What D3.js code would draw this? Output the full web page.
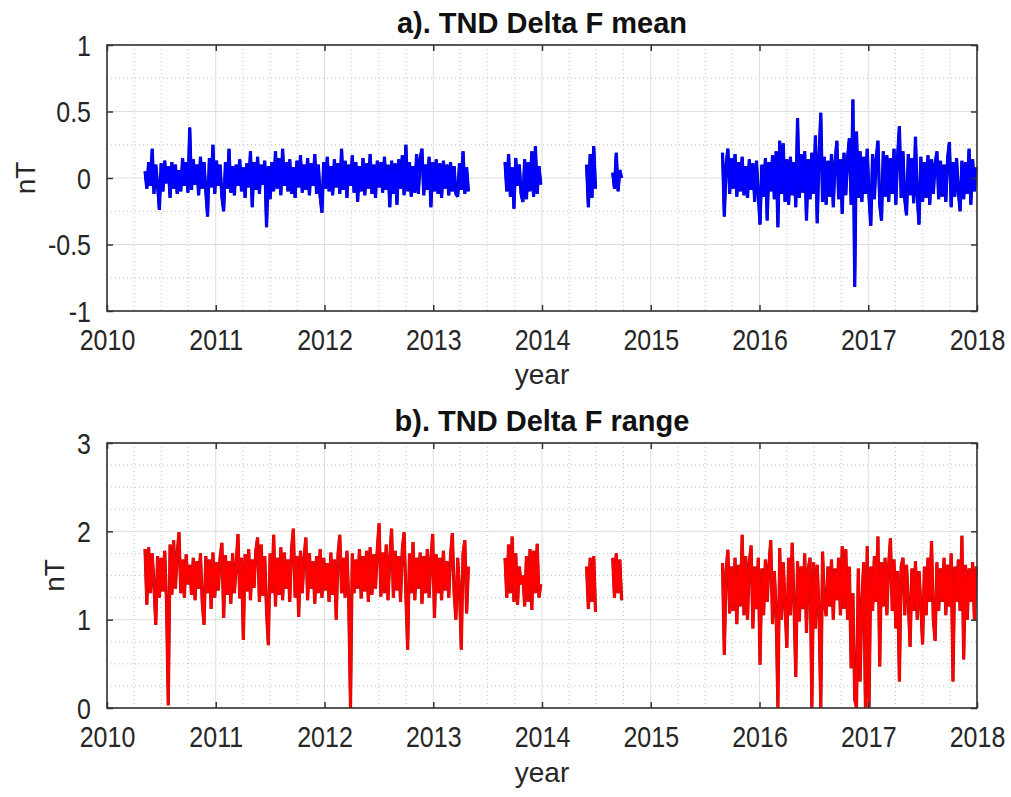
<!DOCTYPE html>
<html>
<head>
<meta charset="utf-8">
<script src="https://cdn.jsdelivr.net/npm/d3@7"></script>
<style>
  body { margin: 0; background: #fff; }
  text { font-family: "Liberation Sans", Arial, sans-serif; fill: #262626; }
</style>
</head>
<body>
<svg id="chart" width="1011" height="797"></svg>
<script>
// tick labels
const xYears = [2010, 2011, 2012, 2013, 2014, 2015, 2016, 2017, 2018];
const yTicksMean = [-1, -0.5, 0, 0.5, 1];
const yTicksRange = [0, 1, 2, 3];

// each data segment starts at this decimal year, samples every 6 days
const segStarts = [2010.35, 2013.66, 2014.41, 2014.65, 2015.66];
const sampleDays = 6;

// a). Delta F mean, nT
const mean1 = [
  0.05,-0.08,0.12,-0.06,0.22,-0.12,0.1,-0.05,-0.24,0.11,
  -0.1,0.13,-0.04,0.09,-0.15,0.12,-0.08,0.1,-0.12,0.06,
  -0.1,0.15,-0.06,0.12,-0.11,0.38,-0.09,0.14,-0.05,0.1,
  -0.13,0.16,-0.08,0.12,-0.1,-0.29,0.15,-0.07,0.25,-0.12,
  0.13,-0.06,0.1,-0.14,-0.25,0.12,-0.08,0.22,-0.11,0.09,
  -0.13,0.1,-0.06,0.14,-0.1,0.08,-0.15,0.11,-0.07,0.2,
  -0.22,0.12,-0.09,0.16,-0.12,0.1,-0.05,0.13,-0.37,0.09,
  -0.16,0.12,-0.1,0.2,-0.08,0.15,-0.13,0.22,-0.06,0.12,
  -0.1,0.14,-0.12,0.08,-0.15,0.13,-0.07,0.17,-0.11,0.1,
  -0.09,0.15,-0.13,0.11,-0.06,0.18,-0.12,0.1,-0.14,-0.26,
  0.12,-0.08,0.16,-0.1,0.09,-0.13,0.14,-0.07,0.11,-0.12,
  0.22,-0.09,0.13,-0.15,0.1,-0.06,0.17,-0.11,0.12,-0.18,
  0.09,-0.1,0.15,-0.13,0.11,-0.08,0.18,-0.12,0.1,-0.15,
  0.13,-0.07,0.12,-0.11,0.16,-0.09,0.1,-0.22,0.13,-0.12,
  0.11,-0.2,0.14,-0.08,0.17,-0.13,0.25,-0.1,0.12,-0.14,
  0.09,-0.11,0.18,-0.12,0.15,0.22,-0.13,0.1,-0.09,0.16,
  -0.22,0.12,-0.1,0.14,-0.12,0.11,-0.15,0.13,-0.08,0.1,
  -0.13,0.12,-0.1,0.09,-0.12,-0.14,0.11,-0.09,0.2,-0.12,
  0.08,-0.1
];
const mean2 = [0.12,-0.1,0.18,-0.14,0.08,-0.23,0.15,-0.06,0.1,-0.12,-0.18,0.14,-0.16,0.12,-0.1,0.2,-0.14,0.24,-0.12,0.09,-0.05];
const mean3 = [0.1,-0.22,0.18,-0.15,0.24,-0.08];
const mean4 = [0.04,-0.08,0.19,-0.1,0.06,0.0];
const mean5 = [
  0.19,-0.29,0.1,0.22,-0.12,0.15,-0.08,0.18,-0.14,0.12,
  -0.1,0.16,-0.13,0.09,-0.15,0.14,-0.09,0.11,-0.18,0.13,
  -0.12,-0.35,0.1,-0.14,0.15,-0.32,0.12,-0.1,0.17,-0.16,
  0.2,-0.37,0.28,-0.12,0.26,-0.18,0.14,-0.2,0.16,-0.13,
  0.12,-0.22,0.45,-0.15,0.18,-0.11,0.2,-0.32,0.14,-0.16,
  0.19,-0.12,0.32,-0.34,0.15,0.49,-0.18,0.16,-0.2,0.13,
  -0.14,0.18,-0.22,0.12,0.28,-0.16,0.14,-0.27,0.19,-0.13,
  0.15,0.3,-0.2,0.59,-0.82,0.35,-0.15,0.2,-0.18,0.16,
  -0.12,0.22,-0.14,-0.36,0.18,-0.16,0.14,0.28,-0.2,-0.32,
  0.2,-0.14,0.17,-0.18,0.15,-0.12,0.22,-0.2,0.16,0.39,
  -0.15,0.2,-0.16,-0.28,0.18,-0.13,0.15,-0.19,0.31,-0.14,
  -0.35,0.16,-0.18,0.12,-0.15,0.17,-0.2,0.14,-0.12,0.11,
  0.2,-0.16,0.13,-0.14,0.1,-0.18,0.15,0.27,-0.22,0.12,
  -0.14,0.15,-0.1,-0.25,0.13,-0.16,0.12,-0.12,0.22,-0.2,
  0.14,-0.1,0.08
];

// b). Delta F range, nT
const range1 = [
  1.8,1.17,1.82,1.3,1.75,1.38,0.94,1.72,1.25,1.7,
  1.32,1.78,1.2,0.03,1.85,1.28,1.9,1.35,1.75,1.99,
  1.3,1.68,1.25,1.74,1.4,1.62,1.28,1.7,1.22,1.66,
  1.35,1.75,1.2,0.94,1.72,1.3,1.68,1.12,1.76,1.25,
  1.65,1.33,1.7,1.87,1.02,1.73,1.28,1.66,1.18,1.75,
  1.3,1.62,1.97,1.24,1.7,0.77,1.74,1.32,1.8,1.22,
  1.68,1.36,1.78,1.93,1.2,1.85,1.27,1.72,1.1,0.71,
  1.75,1.3,1.96,1.15,1.7,1.28,1.82,1.22,1.76,1.35,
  1.68,1.2,1.8,2.03,1.25,1.72,1.03,1.78,1.3,1.7,
  1.93,1.22,1.75,1.35,1.66,1.18,1.72,1.3,1.8,1.25,
  1.7,1.33,1.64,1.2,1.76,1.28,1.68,1.0,1.74,1.96,
  1.3,1.7,1.25,1.78,1.22,0.0,1.75,1.3,1.68,1.35,
  1.8,1.24,1.72,1.32,1.78,1.2,1.82,1.28,1.74,1.35,
  1.8,2.09,1.26,1.76,1.3,1.85,1.22,1.7,2.03,1.25,
  1.78,1.33,1.72,1.2,1.8,1.99,1.28,0.66,1.75,1.3,
  1.88,1.22,1.7,1.35,1.76,1.18,1.72,1.3,1.8,1.25,
  1.68,1.97,1.02,1.74,1.3,1.7,1.22,1.78,1.33,1.66,
  1.25,1.72,1.98,1.3,1.0,1.7,1.35,0.66,1.75,1.9,
  1.07,1.6
];
const range2 = [1.7,1.25,1.85,1.3,1.94,1.2,1.75,1.17,1.6,1.4,1.5,1.15,1.72,1.2,1.8,1.11,1.78,1.3,1.86,1.25,1.4];
const range3 = [1.6,1.12,1.7,1.2,1.72,1.09];
const range4 = [1.7,1.25,1.75,1.3,1.68,1.22];
const range5 = [
  1.64,0.6,1.55,1.79,1.07,1.6,1.1,1.7,0.95,1.62,
  1.15,1.96,1.05,1.72,1.0,1.65,1.84,0.9,1.6,1.12,
  1.7,0.49,1.58,1.05,1.68,1.2,1.62,1.9,0.95,1.55,
  1.1,0.0,1.81,1.0,1.65,1.15,0.68,1.7,1.05,1.87,
  1.2,0.35,1.66,0.98,1.6,1.12,1.75,0.85,1.58,1.7,
  0.0,1.65,0.9,1.62,1.1,0.0,1.77,1.2,1.04,1.6,
  1.15,1.68,1.0,1.58,1.22,1.7,1.05,1.83,1.12,1.8,
  1.0,1.6,0.45,1.3,0.1,0.0,1.58,0.3,1.2,1.65,
  0.0,1.83,0.0,1.6,1.1,1.72,1.2,1.94,0.47,1.65,
  1.15,1.7,1.05,1.62,1.92,1.1,1.68,0.9,1.55,0.3,
  1.6,1.7,1.05,1.62,1.2,0.69,1.58,1.1,1.66,1.0,
  1.55,1.15,0.72,1.6,1.05,1.7,1.2,1.89,1.0,0.76,
  1.65,1.1,1.58,1.2,1.7,1.05,1.62,1.15,1.75,0.3,
  1.6,1.2,1.68,1.1,1.95,0.55,1.62,1.0,1.58,1.2,
  1.65,1.0,1.6
];

const svg = d3.select("#chart");
const left = 107, right = 977;

const panels = [
  { title: "a). TND Delta F mean", top: 45, bottom: 311, domain: [-1, 1], ticks: yTicksMean, minorStep: 0.25,
    segs: [mean1, mean2, mean3, mean4, mean5], color: "#0000ff", edge: "#000090", titleY: 33, tickY: 350, labelY: 384, nTx: 35 },
  { title: "b). TND Delta F range", top: 443, bottom: 708, domain: [0, 3], ticks: yTicksRange, minorStep: 0.25,
    segs: [range1, range2, range3, range4, range5], color: "#ff0000", edge: "#901818", titleY: 431, tickY: 747, labelY: 782, nTx: 64 }
];

const x = d3.scaleLinear().domain([2010, 2018]).range([left, right]);
const step = sampleDays / 365.25;

panels.forEach(p => {
  const y = d3.scaleLinear().domain(p.domain).range([p.bottom, p.top]);
  const g = svg.append("g");

  // minor grid (dotted)
  const xMinor = d3.range(2010, 2018.001, 0.25).filter(v => v % 1 !== 0);
  const yMinor = d3.range(p.domain[0], p.domain[1] + 0.001, p.minorStep).filter(v => !p.ticks.includes(v));
  g.selectAll(".xminor").data(xMinor).enter().append("line")
    .attr("x1", d => x(d)).attr("x2", d => x(d)).attr("y1", p.top).attr("y2", p.bottom)
    .attr("stroke", "#c4c4c4").attr("stroke-dasharray", "1,3");
  g.selectAll(".yminor").data(yMinor).enter().append("line")
    .attr("x1", left).attr("x2", right).attr("y1", d => y(d)).attr("y2", d => y(d))
    .attr("stroke", "#c4c4c4").attr("stroke-dasharray", "1,3");

  // major grid
  g.selectAll(".xgrid").data(xYears).enter().append("line")
    .attr("x1", d => x(d)).attr("x2", d => x(d)).attr("y1", p.top).attr("y2", p.bottom)
    .attr("stroke", "#dedede");
  g.selectAll(".ygrid").data(p.ticks).enter().append("line")
    .attr("x1", left).attr("x2", right).attr("y1", d => y(d)).attr("y2", d => y(d))
    .attr("stroke", "#dedede");

  // data lines: a darker under-stroke gives the dense band its edge, colour on top
  const line = d3.line().x(d => x(d[0])).y(d => y(d[1]));
  p.segs.forEach((vals, k) => {
    const pts = vals.map((v, i) => [segStarts[k] + i * step, v]);
    g.append("path").datum(pts)
      .attr("d", line)
      .attr("fill", "none")
      .attr("stroke", p.edge)
      .attr("stroke-width", 3.2)
      .attr("stroke-linejoin", "bevel");
    g.append("path").datum(pts)
      .attr("d", line)
      .attr("fill", "none")
      .attr("stroke", p.color)
      .attr("stroke-width", 2.6)
      .attr("stroke-linejoin", "bevel");
  });

  // axes: inward ticks, labels below / left
  const axB = g.append("g").attr("transform", "translate(0," + p.bottom + ")")
    .call(d3.axisBottom(x).tickValues(xYears).tickSize(-6).tickSizeOuter(0).tickFormat(d3.format("d")));
  axB.selectAll("text").attr("y", 0).attr("dy", 0).style("font-size", "25px")
    .attr("transform", "translate(0," + (p.tickY - p.bottom) + ") scale(1,1.15)");
  const axT = g.append("g").attr("transform", "translate(0," + p.top + ")")
    .call(d3.axisTop(x).tickValues(xYears).tickSize(-6).tickSizeOuter(0).tickFormat(""));
  const axL = g.append("g").attr("transform", "translate(" + left + ",0)")
    .call(d3.axisLeft(y).tickValues(p.ticks).tickSize(-6).tickSizeOuter(0).tickFormat(d => String(d)));
  axL.selectAll("text").attr("x", 0).attr("dy", "0.35em").style("font-size", "25px")
    .attr("transform", "translate(-16,0) scale(1,1.15)");
  const axR = g.append("g").attr("transform", "translate(" + right + ",0)")
    .call(d3.axisRight(y).tickValues(p.ticks).tickSize(-6).tickSizeOuter(0).tickFormat(""));
  [axB, axT, axL, axR].forEach(a => {
    a.select(".domain").remove();
    a.selectAll("line").attr("stroke", "#333").attr("stroke-width", 1.5);
    a.selectAll("text").attr("fill", "#262626").style("font-family", "'Liberation Sans', Arial, sans-serif");
  });

  // box
  g.append("rect")
    .attr("x", left).attr("y", p.top).attr("width", right - left).attr("height", p.bottom - p.top)
    .attr("fill", "none").attr("stroke", "#333").attr("stroke-width", 1.6);

  // title and labels
  g.append("text").attr("x", (left + right) / 2).attr("y", p.titleY)
    .attr("text-anchor", "middle").style("font-size", "29px").style("font-weight", "bold").style("fill", "#111")
    .text(p.title);
  g.append("text").attr("x", (left + right) / 2).attr("y", p.labelY)
    .attr("text-anchor", "middle").style("font-size", "28px")
    .text("year");
  g.append("text").attr("transform", "translate(" + p.nTx + "," + (p.top + p.bottom) / 2 + ") rotate(-90)")
    .attr("text-anchor", "middle").style("font-size", "28px")
    .text("nT");
});
</script>
</body>
</html>
